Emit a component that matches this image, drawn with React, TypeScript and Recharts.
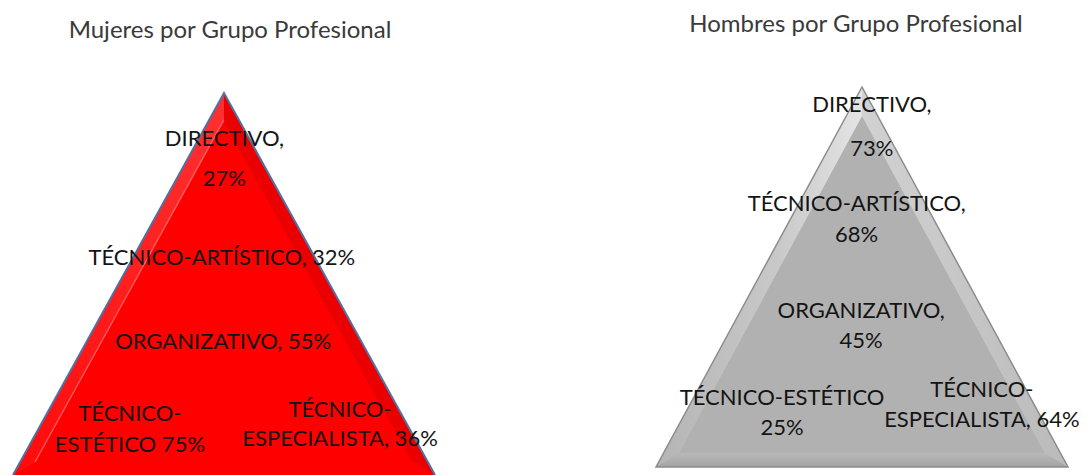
import React from 'react';
import { ScatterChart, Scatter, XAxis, YAxis, ReferenceArea, Customized } from 'recharts';

// ---------- data ----------
const categories = ['DIRECTIVO', 'TÉCNICO-ARTÍSTICO', 'ORGANIZATIVO', 'TÉCNICO-ESTÉTICO', 'TÉCNICO-ESPECIALISTA'];
const mujeresValues = [27, 32, 55, 75, 36];
const hombresValues = [73, 68, 45, 25, 64];
const mujeresTitle = 'Mujeres por Grupo Profesional';
const hombresTitle = 'Hombres por Grupo Profesional';

// ---------- label layout (position inside the triangle, 0-100 of its box) ----------
const mujeresWrap = ['value', 'none', 'none', 'hyphen', 'hyphen'];
const mujeresLabelX = [50.1, 49.5, 49.8, 27.7, 77.5];
const mujeresLabelY = [83.2, 57.1, 35.1, 12.2, 13.7];
const mujeresGap = [40, 29, 29, 31, 29];

const hombresWrap = ['value', 'value', 'value', 'value', 'hyphen'];
const hombresLabelX = [52.4, 48.7, 49.8, 30.6, 79.1];
const hombresLabelY = [90.0, 65.4, 37.4, 14.5, 16.8];
const hombresGap = [44, 31, 30, 30, 30];

const FONT = 'Lato, "Open Sans", sans-serif';

function labelLines(cat: string, v: number, wrap: string): string[] {
  const sep = cat === 'TÉCNICO-ESTÉTICO' ? '' : ',';
  const full = `${cat}${sep} ${v}%`;
  if (wrap === 'value') return [`${cat}${sep}`, `${v}%`];
  if (wrap === 'hyphen') {
    const i = full.indexOf('-');
    return [full.slice(0, i + 1), full.slice(i + 1)];
  }
  return [full];
}

function buildData(values: number[], wrap: string[], lx: number[], ly: number[], gap: number[]) {
  return categories.map((c, i) => ({
    name: c,
    value: values[i],
    x: lx[i],
    y: ly[i],
    lines: labelLines(c, values[i], wrap[i]),
    gap: gap[i],
  }));
}

const LabelShape = (props: any) => {
  const { cx, cy, payload } = props;
  const lines: string[] = payload.lines;
  const gap: number = payload.gap;
  const start = cy - ((lines.length - 1) * gap) / 2;
  return (
    <text textAnchor="middle" fontFamily={FONT} fontSize={22} fill="#141414">
      {lines.map((l, i) => (
        <tspan key={i} x={cx} y={start + i * gap} dominantBaseline="central">
          {l}
        </tspan>
      ))}
    </text>
  );
};

type P = [number, number];
function inset(A: P, L: P, R: P, d: number): [P, P, P] {
  const dist = (p: P, q: P) => Math.hypot(p[0] - q[0], p[1] - q[1]);
  const a = dist(L, R), b = dist(A, R), c = dist(A, L);
  const per = a + b + c;
  const I: P = [(a * A[0] + b * L[0] + c * R[0]) / per, (a * A[1] + b * L[1] + c * R[1]) / per];
  const area = Math.abs((L[0] - A[0]) * (R[1] - A[1]) - (R[0] - A[0]) * (L[1] - A[1])) / 2;
  const r = area / (per / 2);
  const k = (r - d) / r;
  const f = (p: P): P => [I[0] + (p[0] - I[0]) * k, I[1] + (p[1] - I[1]) * k];
  return [f(A), f(L), f(R)];
}
const pts = (arr: P[]) => arr.map((p) => `${p[0]},${p[1]}`).join(' ');

const makeTriangle = (kind: 'red' | 'gray') => (props: any) => {
  const { x, y, width, height } = props;
  const A: P = [x + width / 2, y];
  const L: P = [x, y + height];
  const R: P = [x + width, y + height];
  const d = kind === 'red' ? 13 : 14;
  const [a2, l2, r2] = inset(A, L, R, d);
  if (kind === 'red') {
    return (
      <g>
        <defs>
          <linearGradient id="redLeft" x1="0" y1="0" x2="1" y2="0">
            <stop offset="0" stopColor="#ff0a0a" />
            <stop offset="1" stopColor="#ff3030" />
          </linearGradient>
        </defs>
        <polygon points={pts([A, L, R])} fill="#ff0000" />
        <polygon points={pts([A, L, l2, a2])} fill="url(#redLeft)" />
        <polygon points={pts([A, R, r2, a2])} fill="#ea0000" />
        <polygon points={pts([a2, l2, r2])} fill="#ff0000" />
        <line x1={a2[0]} y1={a2[1]} x2={l2[0]} y2={l2[1]} stroke="#ff8c8c" strokeWidth={1.2} strokeOpacity={0.7} />
        <line x1={a2[0]} y1={a2[1]} x2={r2[0]} y2={r2[1]} stroke="#d40000" strokeWidth={1.2} strokeOpacity={0.5} />
        <polyline points={pts([L, A, R])} fill="none" stroke="#4f71a3" strokeWidth={2} />
      </g>
    );
  }
  return (
    <g>
      <defs>
        <linearGradient id="grayLeft" x1="0" y1="0" x2="1" y2="0">
          <stop offset="0" stopColor="#b4b4b4" />
          <stop offset="0.6" stopColor="#c9c9c9" />
          <stop offset="1" stopColor="#e4e4e4" />
        </linearGradient>
        <linearGradient id="grayRight" x1="0" y1="0" x2="1" y2="0">
          <stop offset="0" stopColor="#d2d2d2" />
          <stop offset="1" stopColor="#bababa" />
        </linearGradient>
        <linearGradient id="grayBottom" x1="0" y1="0" x2="0" y2="1">
          <stop offset="0" stopColor="#b9b9b9" />
          <stop offset="1" stopColor="#a4a4a4" />
        </linearGradient>
      </defs>
      <polygon points={pts([A, L, R])} fill="#b0b0b0" />
      <polygon points={pts([A, L, l2, a2])} fill="url(#grayLeft)" />
      <polygon points={pts([A, R, r2, a2])} fill="url(#grayRight)" />
      <polygon points={pts([L, R, r2, l2])} fill="url(#grayBottom)" />
      <polygon points={pts([a2, l2, r2])} fill="#b1b1b1" />
      <polygon points={pts([A, L, R])} fill="none" stroke="#8c8c8c" strokeWidth={1.5} />
    </g>
  );
};

const redTriangle = makeTriangle('red');
const grayTriangle = makeTriangle('gray');

function Panel(props: {
  title: string;
  titleX: number;
  titleY: number;
  data: any[];
  margin: { top: number; right: number; bottom: number; left: number };
  shape: any;
}) {
  const { title, titleX, titleY, data, margin, shape } = props;
  return (
    <ScatterChart width={546} height={475} margin={margin}>
      <XAxis type="number" dataKey="x" domain={[0, 100]} hide />
      <YAxis type="number" dataKey="y" domain={[0, 100]} hide />
      <ReferenceArea x1={0} x2={100} y1={0} y2={100} ifOverflow="visible" shape={shape} />
      <Scatter data={data} shape={LabelShape} isAnimationActive={false} />
      <Customized
        component={() => (
          <text x={titleX} y={titleY} textAnchor="middle" fontFamily={FONT} fontSize={24} fill="#3a3a3a">
            {title}
          </text>
        )}
      />
    </ScatterChart>
  );
}

export default function App() {
  const mujeresData = buildData(mujeresValues, mujeresWrap, mujeresLabelX, mujeresLabelY, mujeresGap);
  const hombresData = buildData(hombresValues, hombresWrap, hombresLabelX, hombresLabelY, hombresGap);
  return (
    <div style={{ position: 'absolute', left: 0, top: 0, width: 1092, height: 475, background: '#fff', display: 'flex', overflow: 'hidden' }}>
      <Panel
        title={mujeresTitle}
        titleX={230}
        titleY={38}
        data={mujeresData}
        margin={{ top: 93, right: 111, bottom: 0, left: 13 }}
        shape={redTriangle}
      />
      <Panel
        title={hombresTitle}
        titleX={310}
        titleY={32}
        data={hombresData}
        margin={{ top: 87, right: 24, bottom: 8, left: 110 }}
        shape={grayTriangle}
      />
    </div>
  );
}
